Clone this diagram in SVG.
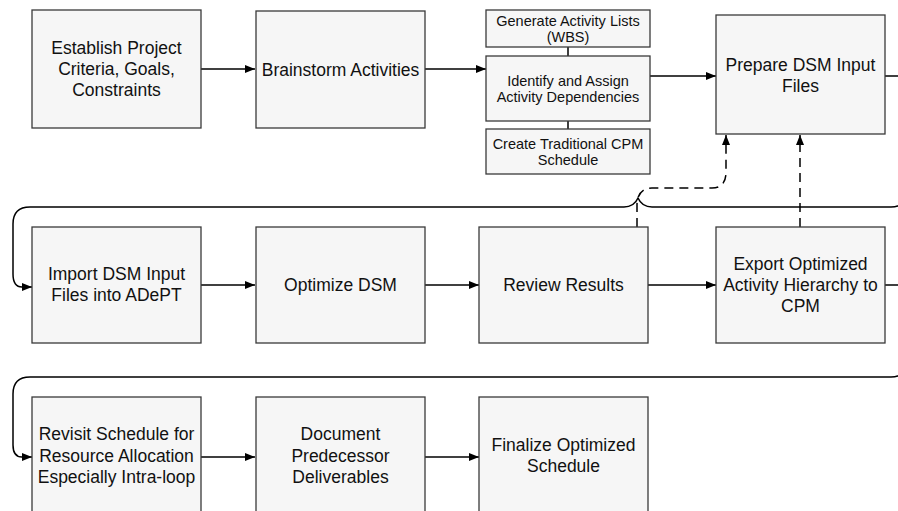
<svg xmlns="http://www.w3.org/2000/svg" width="898" height="511" viewBox="0 0 898 511">
<style>
.box{fill:#f6f6f6;stroke:#3a3a3a;stroke-width:1.3}
.t{font-family:"Liberation Sans",Arial,sans-serif;font-size:17.5px;fill:#111;text-anchor:middle}
.s{font-family:"Liberation Sans",Arial,sans-serif;font-size:14.5px;fill:#111;text-anchor:middle}
.c{fill:none;stroke:#000;stroke-width:1.5}
.d{fill:none;stroke:#000;stroke-width:1.5;stroke-dasharray:9 6}
</style>
<defs>
<marker id="ah" markerUnits="userSpaceOnUse" markerWidth="11" markerHeight="9" refX="10" refY="4" orient="auto">
<path d="M0,0 L10,4 L0,8 z" fill="#000"/>
</marker>
</defs>
<g id="connectors">
<path class="c" d="M201 69 H255" marker-end="url(#ah)"/>
<path class="c" d="M425 69 H486" marker-end="url(#ah)"/>
<path class="c" d="M568 47 V56 M568 121 V129"/>
<path class="c" d="M650 76 H716" marker-end="url(#ah)"/>
<path class="c" d="M885 76 H906 V192 Q906 207 891 207 H652 Q642 207 638 198 Q634 207 624 207 H30 Q13 207 13 224 V274 Q13 287 22 287 H32" marker-end="url(#ah)"/>
<path class="c" d="M201 285 H255" marker-end="url(#ah)"/>
<path class="c" d="M425 285 H479" marker-end="url(#ah)"/>
<path class="c" d="M648 285 H716" marker-end="url(#ah)"/>
<path class="c" d="M885 285 H906 V362 Q906 377 891 377 H30 Q13 377 13 394 V445 Q13 457 22 457 H32" marker-end="url(#ah)"/>
<path class="c" d="M201 457 H255" marker-end="url(#ah)"/>
<path class="c" d="M425 457 H479" marker-end="url(#ah)"/>
<path class="d" d="M637 227 V204 Q638 188 652 188 H712 Q726 188 726 172 V135" marker-end="url(#ah)"/>
<path class="d" d="M800 227 V135" marker-end="url(#ah)"/>
</g>
<g id="n1"><rect class="box" x="32" y="10" width="169" height="118"/>
<text class="t" x="116.5" y="54">Establish Project</text><text class="t" x="116.5" y="75">Criteria, Goals,</text><text class="t" x="116.5" y="95.5">Constraints</text></g>
<g id="n2"><rect class="box" x="256" y="11" width="169" height="117"/>
<text class="t" x="340.5" y="76">Brainstorm Activities</text></g>
<g id="n3"><rect class="box" x="486" y="10" width="164" height="37"/>
<text class="s" x="568" y="26">Generate Activity Lists</text><text class="s" x="568" y="41.5">(WBS)</text></g>
<g id="n4"><rect class="box" x="486" y="56" width="164" height="65"/>
<text class="s" x="568" y="85.5">Identify and Assign</text><text class="s" x="568" y="101.5">Activity Dependencies</text></g>
<g id="n5"><rect class="box" x="486" y="129" width="164" height="45"/>
<text class="s" x="568" y="149">Create Traditional CPM</text><text class="s" x="568" y="164.5">Schedule</text></g>
<g id="n6"><rect class="box" x="716" y="15" width="169" height="119"/>
<text class="t" x="800.5" y="71">Prepare DSM Input</text><text class="t" x="800.5" y="91.5">Files</text></g>
<g id="n7"><rect class="box" x="32" y="227" width="169" height="116"/>
<text class="t" x="116.5" y="280">Import DSM Input</text><text class="t" x="116.5" y="301">Files into ADePT</text></g>
<g id="n8"><rect class="box" x="256" y="227" width="169" height="116"/>
<text class="t" x="340.5" y="291">Optimize DSM</text></g>
<g id="n9"><rect class="box" x="479" y="227" width="169" height="116"/>
<text class="t" x="563.5" y="290.5">Review Results</text></g>
<g id="n10"><rect class="box" x="716" y="227" width="169" height="116"/>
<text class="t" x="800.5" y="269.5">Export Optimized</text><text class="t" x="800.5" y="290.5">Activity Hierarchy to</text><text class="t" x="800.5" y="311.5">CPM</text></g>
<g id="n11"><rect class="box" x="32" y="397" width="169" height="130"/>
<text class="t" x="116.5" y="440">Revisit Schedule for</text><text class="t" x="116.5" y="461.5">Resource Allocation</text><text class="t" x="116.5" y="483">Especially Intra-loop</text></g>
<g id="n12"><rect class="box" x="256" y="397" width="169" height="130"/>
<text class="t" x="340.5" y="440">Document</text><text class="t" x="340.5" y="461.5">Predecessor</text><text class="t" x="340.5" y="483">Deliverables</text></g>
<g id="n13"><rect class="box" x="479" y="397" width="169" height="130"/>
<text class="t" x="563.5" y="451">Finalize Optimized</text><text class="t" x="563.5" y="471.5">Schedule</text></g>
</svg>
